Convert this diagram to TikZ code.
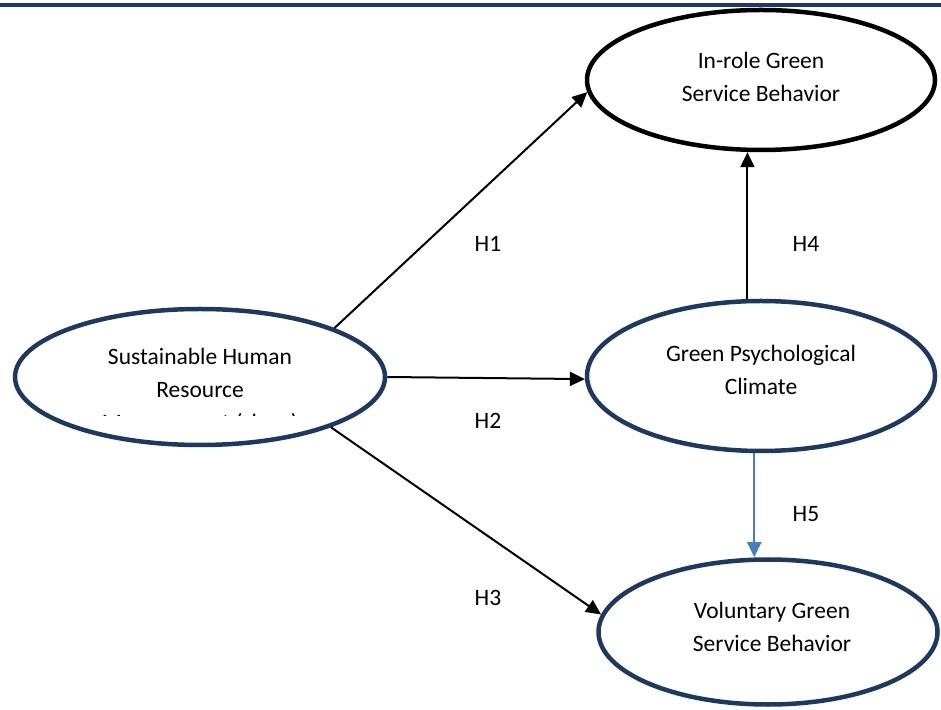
\documentclass[tikz,border=0pt]{standalone}
\usepackage{fontspec}
\setmainfont{Carlito}
\usetikzlibrary{arrows.meta, positioning, shapes.geometric}
\definecolor{navyline}{RGB}{31,56,94}
\definecolor{blueline}{RGB}{74,126,187}

\begin{document}
\begin{tikzpicture}[x=1pt, y=1pt,
  construct/.style={ellipse, draw=navyline, line width=4.5pt, inner sep=0pt},
  txt/.style={align=center, font=\fontsize{23.5}{33}\selectfont},
  hyparrow/.style={black, line width=2pt, -{Triangle[length=15pt, width=14pt]}}]
  \useasboundingbox (0,0) rectangle (941,709);
  \draw[navyline, line width=3.5pt] (0,704) -- (941,704);

  % constructs
  \node[construct, draw=black, minimum width=348pt, minimum height=140pt] (inrole) at (761,629) {};
  \node[construct, minimum width=370pt, minimum height=136pt] (shrm) at (200,332) {};
  \node[construct, minimum width=348pt, minimum height=150pt] (gpc) at (761,333) {};
  \node[construct, minimum width=339pt, minimum height=145pt] (vol) at (768,77) {};

  \node[txt] (inroletext) at ([yshift=3pt]inrole.center) {In-role Green\\Service Behavior};
  \node[txt] (gpctext) at ([yshift=6pt]gpc.center) {Green Psychological\\Climate};
  \node[txt] (voltext) at ([xshift=4pt, yshift=5pt]vol.center) {Voluntary Green\\Service Behavior};
  \begin{scope}
    \clip (0,293) rectangle (941,709);
    \node[txt] (shrmtext) at ([yshift=-14pt]shrm.center) {Sustainable Human\\Resource\\Management (shrm)};
  \end{scope}

  % hypotheses
  \draw[hyparrow] (shrm.20) -- (inrole.184);
  \draw[hyparrow] (shrm.east) -- (gpc.181);
  \draw[hyparrow] (shrm.-21) -- (vol.174);
  \draw[hyparrow] (gpc.100) -- (gpc.100 |- inrole.south);
  \draw[hyparrow, blueline] (gpc.265) -- (gpc.265 |- vol.north);

  \node[txt] (h1) at (488,465) {H1};
  \node[txt] (h2) at (488,288) {H2};
  \node[txt] (h3) at (488,111) {H3};
  \node[txt] (h4) at (806,465) {H4};
  \node[txt] (h5) at (806,195) {H5};
\end{tikzpicture}
\end{document}
